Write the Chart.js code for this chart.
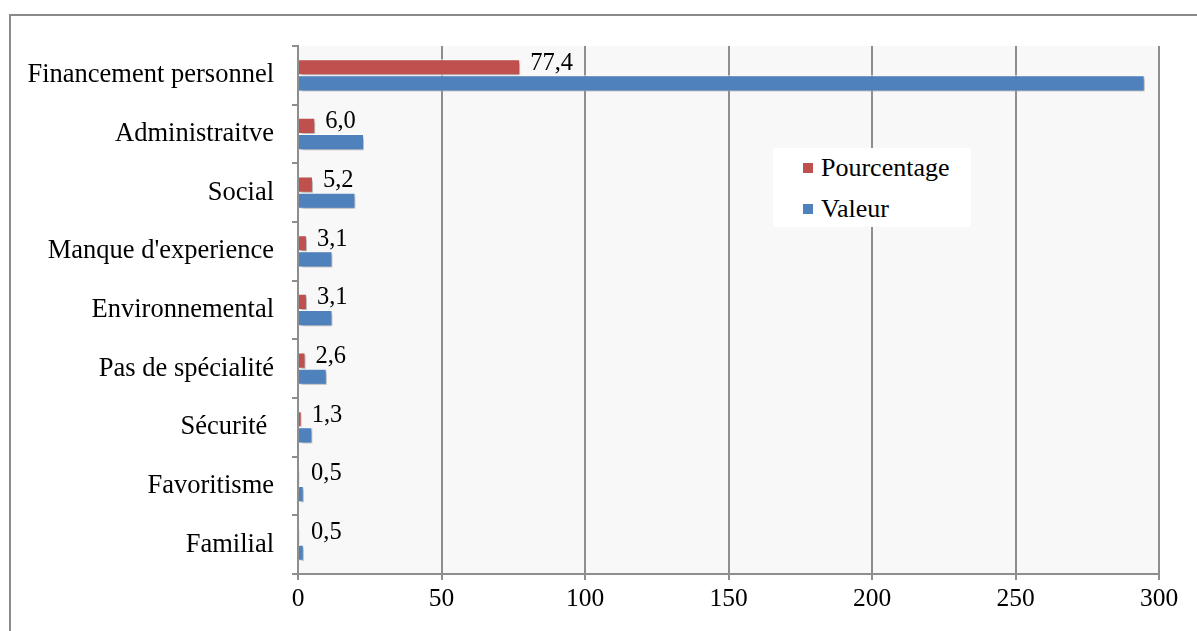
<!DOCTYPE html>
<html>
<head>
<meta charset="utf-8">
<script src="https://cdn.jsdelivr.net/npm/chart.js@4/dist/chart.umd.min.js"></script>
<style>
    body { margin: 0; background: #fff; overflow: hidden; }
    #wrap { position: relative; width: 1197px; height: 631px; }
    #frame { position: absolute; left: 9px; top: 14px; width: 1200px; height: 640px; border: 2px solid #8a8a8a; box-sizing: border-box; }
    #legend { position: absolute; left: 773px; top: 148px; width: 198px; height: 79px; background: #fff;
              font-family: "Liberation Serif", "Times New Roman", serif; font-size: 26px; color: #000; }
    .lg-item { position: absolute; left: 30px; height: 30px; line-height: 30px; }
    .lg-box { position: absolute; left: 0; top: 10px; width: 10px; height: 10px; }
    .lg-text { position: absolute; left: 18px; top: 0; white-space: nowrap; }
</style>
</head>
<body>
<div id="wrap">
    <div id="frame"></div>
    <canvas id="chart"></canvas>
    <div id="legend"></div>
</div>
<script>
(function () {
    'use strict';

    var categories = ['Financement personnel', 'Administraitve', 'Social', "Manque d'experience",
        'Environnemental', 'Pas de spécialité', 'Sécurité ', 'Favoritisme', 'Familial'];
    var pourcentage = [77.4, 6.0, 5.2, 3.1, 3.1, 2.6, 1.3, 0.5, 0.5];
    var valeur = [295, 23, 20, 12, 12, 10, 5, 2, 2];
    var xMin = 0, xMax = 300, xStep = 50;

    var RED = '#C0504D';
    var BLUE = '#4F81BD';
    var GRID = '#8e8e8e';
    var FONT = '"Liberation Serif", "Times New Roman", serif';

    function fmt(v) { return v.toFixed(1).replace('.', ','); }

    // plot background + bar shadows + value labels
    var decor = {
        id: 'decor',
        beforeDraw: function (chart) {
            var a = chart.chartArea, ctx = chart.ctx;
            ctx.save();
            ctx.fillStyle = '#f8f8f8';
            ctx.fillRect(a.left, a.top, a.right - a.left, a.bottom - a.top);
            ctx.restore();
        },
        beforeDatasetsDraw: function (chart) {
            var ctx = chart.ctx;
            ctx.save();
            ctx.shadowColor = 'rgba(0,0,0,0.35)';
            ctx.shadowOffsetX = 2;
            ctx.shadowOffsetY = 2;
            ctx.shadowBlur = 3;
        },
        afterDatasetsDraw: function (chart) {
            var ctx = chart.ctx;
            ctx.restore();
            var meta = chart.getDatasetMeta(0);
            ctx.save();
            ctx.font = '24.5px ' + FONT;
            ctx.fillStyle = '#000';
            ctx.textAlign = 'left';
            ctx.textBaseline = 'middle';
            meta.data.forEach(function (bar, i) {
                ctx.fillText(fmt(pourcentage[i]), Math.max(bar.x, chart.chartArea.left + 3) + 10, bar.y - 4);
            });
            ctx.restore();
        }
    };

    var datasets = [
        { label: 'Pourcentage', data: pourcentage, backgroundColor: RED },
        { label: 'Valeur', data: valeur, backgroundColor: BLUE }
    ];

    new Chart(document.getElementById('chart'), {
        type: 'bar',
        data: {
            labels: categories,
            datasets: datasets.map(function (d) {
                return {
                    label: d.label,
                    data: d.data,
                    backgroundColor: d.backgroundColor,
                    borderColor: '#ffffff',
                    borderWidth: 1,
                    categoryPercentage: 0.55,
                    barPercentage: 1.0
                };
            })
        },
        options: {
            indexAxis: 'y',
            responsive: true,
            maintainAspectRatio: false,
            animation: false,
            layout: { padding: { left: 0, top: 46, right: 38, bottom: 0 } },
            plugins: {
                legend: { display: false },
                tooltip: { enabled: false }
            },
            scales: {
                x: {
                    min: xMin,
                    max: xMax,
                    afterFit: function (s) { s.height = 57; },
                    ticks: {
                        stepSize: xStep,
                        padding: 4,
                        color: '#000',
                        font: { family: FONT, size: 25.5 },
                        maxRotation: 0
                    },
                    grid: { color: GRID, lineWidth: 2, drawTicks: true, tickLength: 6 },
                    border: { display: true, color: GRID, width: 2 }
                },
                y: {
                    afterFit: function (s) { s.width = 298; },
                    ticks: {
                        padding: 18,
                        color: '#000',
                        font: { family: FONT, size: 26.5 }
                    },
                    grid: { drawOnChartArea: false, drawTicks: true, tickLength: 6, color: GRID, lineWidth: 2 },
                    border: { display: true, color: GRID, width: 2 }
                }
            }
        },
        plugins: [decor]
    });

    // legend as html text
    var lg = document.getElementById('legend');
    datasets.forEach(function (d, i) {
        var item = document.createElement('div');
        item.className = 'lg-item';
        item.style.top = (5 + i * 41) + 'px';
        item.innerHTML = '<span class="lg-box" style="background:' + d.backgroundColor + '"></span>'
            + '<span class="lg-text">' + d.label + '</span>';
        lg.appendChild(item);
    });
})();
</script>
</body>
</html>
